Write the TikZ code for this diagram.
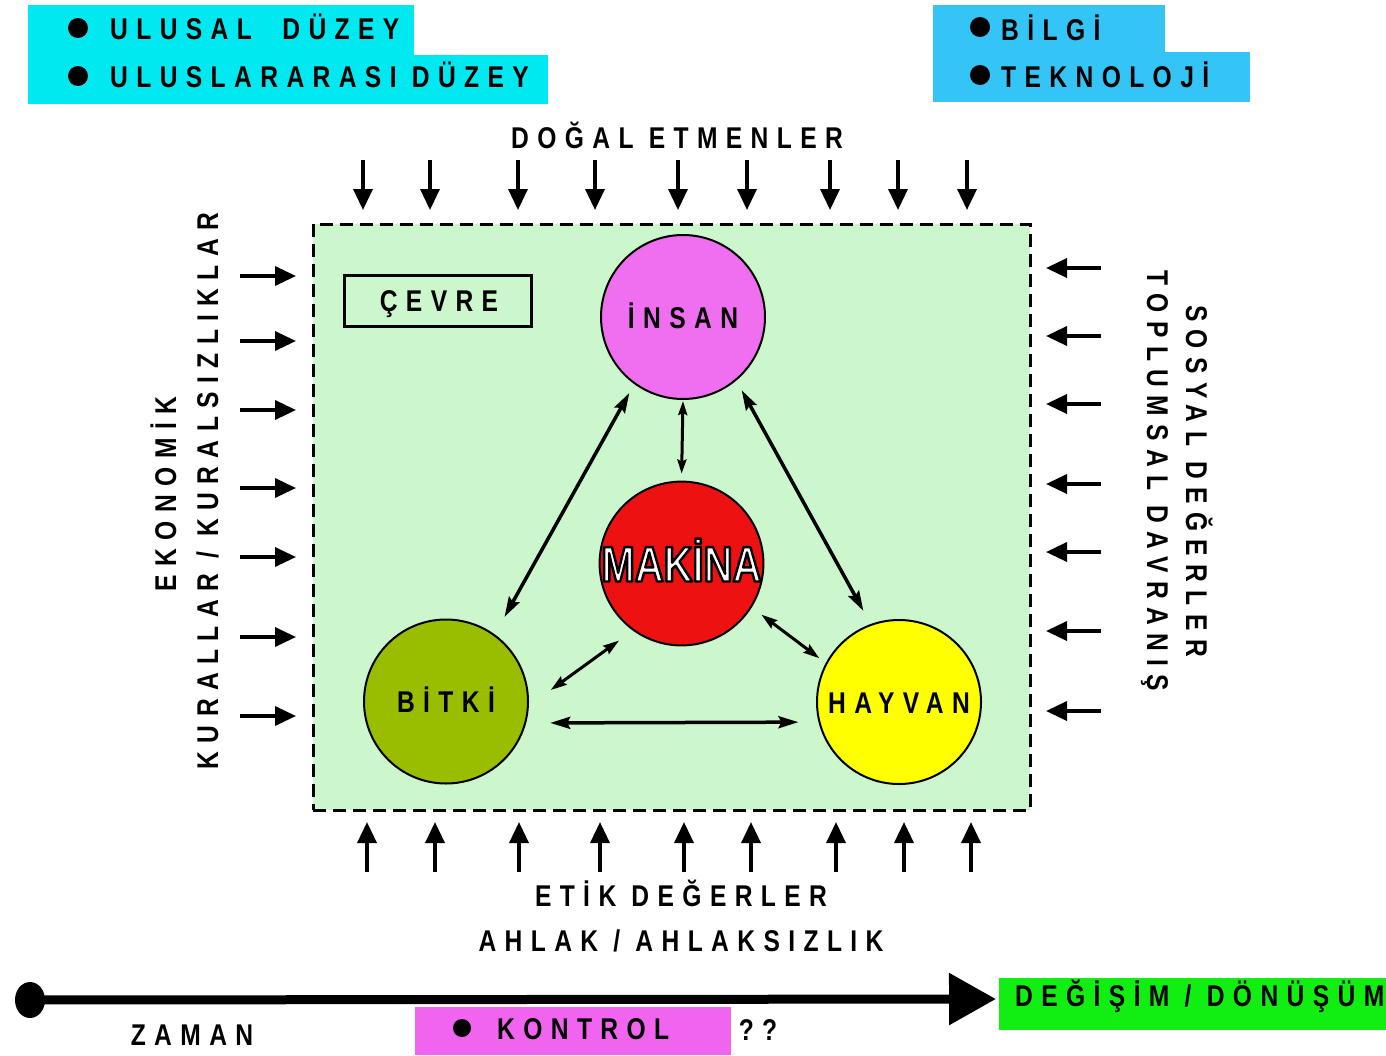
\documentclass[tikz,border=0pt]{standalone}
\usepackage{fontspec}
\usetikzlibrary{arrows.meta,shapes.geometric}

% condensed, letter-spaced bold sans for the labels
\newfontfamily\spacedfont{Liberation Sans}[FakeStretch=0.82,LetterSpace=28]
\newfontfamily\plainfont{Liberation Sans}[FakeStretch=0.8]
\newcommand\lblfont{\spacedfont\bfseries\fontsize{30}{36}\selectfont}
\newcommand\bigfont{\plainfont\bfseries\fontsize{50}{60}\selectfont}
% white letters with a black outline (fill + stroke text render mode)
\newcommand\outlined[1]{\special{pdf:literal direct 0 0 0 RG 2.4 w 1 j 2 Tr}#1\special{pdf:literal direct 0 Tr}}

\definecolor{cyanbox}{RGB}{0,232,240}
\definecolor{bluebox}{RGB}{52,196,245}
\definecolor{envgreen}{RGB}{204,247,204}
\definecolor{insanc}{RGB}{240,110,240}
\definecolor{makinac}{RGB}{238,17,17}
\definecolor{bitkic}{RGB}{153,190,0}
\definecolor{hayvanc}{RGB}{255,255,0}
\definecolor{changec}{RGB}{17,238,17}
\definecolor{kontrolc}{RGB}{240,100,240}

\begin{document}
\begin{tikzpicture}[x=1pt,y=-1pt,
  lbl/.style={inner sep=0pt, text height=22pt, text depth=0pt, font=\lblfont},
  dotmark/.style={circle, fill=black, minimum size=20pt, inner sep=0pt},
  ext/.style={line width=3.5pt, -{Triangle[length=21pt,width=19pt]}},
  link/.style={line width=3.5pt, {Stealth[length=20pt,width=12pt,inset=3pt]}-{Stealth[length=20pt,width=12pt,inset=3pt]}},
  minilink/.style={line width=3pt, {Stealth[length=16pt,width=10pt,inset=2pt]}-{Stealth[length=16pt,width=10pt,inset=2pt]}},
  blob/.style={circle, draw, line width=2pt, minimum size=164pt, inner sep=0pt, font=\lblfont, text height=22pt, text depth=0pt}
]
\useasboundingbox (0,0) rectangle (1386,1055);
\fill[white] (0,0) rectangle (1386,1055);

% --- heading boxes, left
\fill[cyanbox] (28,5) rectangle (414,55);
\fill[cyanbox] (28,55) rectangle (548,104);
\node[dotmark] (bu1) at (78,28) {};
\node[dotmark] (bu2) at (78,76) {};
\node[lbl, anchor=west] (ulusal) at (110,28) {ULUSAL\ \ DÜZEY};
\node[lbl, anchor=west] (uluslar) at (110,76) {ULUSLARARASI DÜZEY};

% --- heading boxes, right
\fill[bluebox] (933,5) rectangle (1165,52);
\fill[bluebox] (933,52) rectangle (1250,102);
\node[dotmark] (bu3) at (980,27) {};
\node[dotmark] (bu4) at (980,75) {};
\node[lbl, anchor=west] (bilgi) at (1001,29) {BİLGİ};
\node[lbl, anchor=west] (tekno) at (1001,76) {TEKNOLOJİ};

% --- environment
\node[draw, fill=envgreen, line width=3pt, dash pattern=on 13pt off 7pt,
      minimum width=717pt, minimum height=586pt, inner sep=0pt] (env) at (671.5,517) {};
\node[draw, line width=3pt, minimum width=187pt, minimum height=51pt, inner sep=0pt] (cevrebox) at (437.5,301) {};
\node[lbl] (cevre) at (439,300) {ÇEVRE};

% --- the four actors
\node[blob, fill=insanc] (insan) at (683,317) {İNSAN};
\node[blob, fill=makinac, minimum size=161pt, font=\bigfont, text height=36pt, text=white] (makina) at (681.5,563.5) {\outlined{MAKİNA}};
\node[blob, fill=bitkic] (bitki) at (446,701.5) {BİTKİ};
\node[blob, fill=hayvanc] (hayvan) at (899,702) {HAYVAN};

% --- relations between the actors
\draw[link, shorten <=10pt, shorten >=20pt] (insan.234.1) -- (bitki.54.9);
\draw[link, shorten <=11pt, shorten >=15pt] (insan.-50.8) -- (hayvan.110.5);
\draw[line width=3pt, {Stealth[length=14pt,width=9pt,inset=2pt]}-{Stealth[length=14pt,width=9pt,inset=2pt]}, shorten <=1pt, shorten >=7pt] (insan.south) -- (makina.north);
\draw[minilink, shorten <=17pt, shorten >=27pt] (makina.234.5) -- (bitki.-3);
\draw[minilink, shorten <=12pt, shorten >=8pt] (makina.-32.7) -- (hayvan.152.8);
\draw[link, shorten <=24pt, shorten >=20pt] (bitki.-15.2) -- (hayvan.194.8);

% --- natural factors, from above
\node[lbl] (dogal) at (677,137) {DOĞAL ETMENLER};
\foreach \x [count=\i] in {363,430,518,595,678,747,830,898,967} {
  \coordinate (dt\i) at (\x,160);
  \coordinate (dh\i) at (\x,210);
  \draw[ext] (dt\i) -- (dh\i);
}

% --- ethical values, from below
\node[lbl] (etik) at (681,895) {ETİK DEĞERLER};
\node[lbl] (ahlak) at (681,940) {AHLAK / AHLAKSIZLIK};
\foreach \x [count=\i] in {367,435,519,600,684,751,836,904,971} {
  \coordinate (ut\i) at (\x,872);
  \coordinate (uh\i) at (\x,822);
  \draw[ext] (ut\i) -- (uh\i);
}

% --- economic rules, from the left
\node[lbl, rotate=90] (ekon) at (165,494) {EKONOMİK};
\node[lbl, rotate=90] (kural) at (207,491) {KURALLAR / KURALSIZLIKLAR};
\foreach \y [count=\i] in {276,341,410,488,557,637,716} {
  \coordinate (lt\i) at (240,\y);
  \coordinate (lh\i) at (296,\y);
  \draw[ext] (lt\i) -- (lh\i);
}

% --- social values, from the right
\node[lbl, rotate=-90] (sosyal) at (1197,481) {SOSYAL DEĞERLER};
\node[lbl, rotate=-90] (toplum) at (1158,481) {TOPLUMSAL DAVRANIŞ};
\foreach \y [count=\i] in {268,336,404,484,552,631,711} {
  \coordinate (rt\i) at (1101,\y);
  \coordinate (rh\i) at (1046,\y);
  \draw[ext] (rt\i) -- (rh\i);
}

% --- time line
\fill[kontrolc] (415,1007) rectangle (731,1055);
\fill[changec] (999,978) rectangle (1386,1030);
\node[ellipse, fill=black, minimum width=30pt, minimum height=36pt, inner sep=0pt] (zdot) at (30,1000) {};
\coordinate (zend) at (996,999);
\draw[line width=9pt, -{Triangle[length=47pt,width=50pt]}] (zdot.center) -- (zend);
\node[lbl] (zaman) at (192,1034) {ZAMAN};
\node[dotmark, minimum size=18pt] (bu5) at (462,1028) {};
\node[lbl, anchor=west] (kontrol) at (497,1028) {KONTROL};
\node[lbl] (soru) at (758,1029) {??};
\node[lbl, anchor=west] (degisim) at (1015,995) {DEĞİŞİM / DÖNÜŞÜM};
\end{tikzpicture}
\end{document}
